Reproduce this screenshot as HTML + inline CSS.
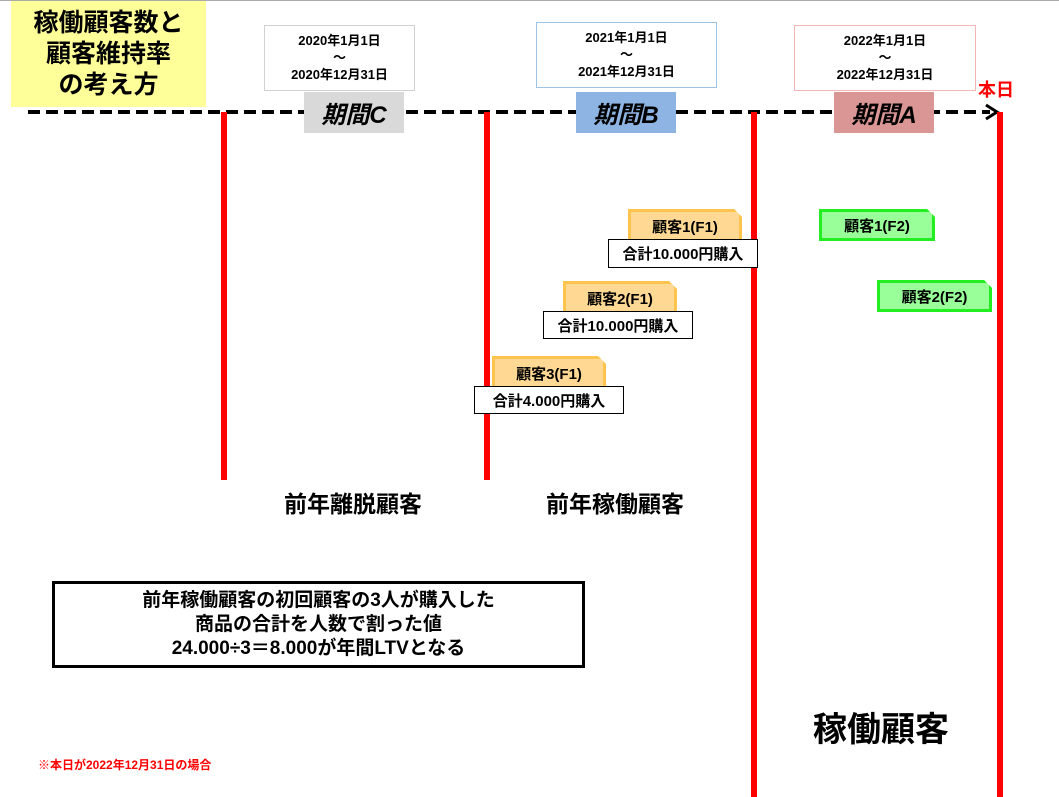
<!DOCTYPE html>
<html><head><meta charset="utf-8"><style>
body{margin:0;width:1059px;height:797px;position:relative;background:#fff;overflow:hidden;font-family:"Liberation Sans","Noto Sans CJK JP",sans-serif;font-weight:bold;color:#000}
.a{position:absolute;box-sizing:border-box}
.c{display:flex;align-items:center;justify-content:center;text-align:center;white-space:nowrap}
.red{background:#f00;width:6px}
.date{border:1px solid #d0d0d0;background:#fff;font-size:13px;line-height:22px;flex-direction:column}
.per{font-size:24px;font-style:italic}
.tag{background:#ffd993;border:3px solid #ffc44d;border-bottom:none;font-size:15px;clip-path:polygon(0 0,calc(100% - 8px) 0,100% 8px,100% 100%,0 100%)}
.box{border:1px solid #000;background:#fff;font-size:15px}
.g{background:#99ff99;border:3px solid #22ee22;font-size:15px;clip-path:polygon(0 0,calc(100% - 8px) 0,100% 8px,100% 100%,0 100%)}
</style></head><body>
<div class="a" style="left:0;top:0;width:1059px;height:1px;background:#aaa"></div>
<div class="a c" style="left:11px;top:1px;width:195px;height:106px;background:#ffff99;font-size:25px;line-height:31px">稼働顧客数と<br>顧客維持率<br>の考え方</div>
<svg class="a" style="left:0;top:0" width="1059" height="797">
<line x1="28" y1="112" x2="990" y2="112" stroke="#000" stroke-width="4" stroke-dasharray="12,6"/>
<polyline points="986,105 997,112 986,119" fill="none" stroke="#000" stroke-width="3"/>
</svg>
<div class="a red" style="left:221px;top:112px;height:368px"></div>
<div class="a red" style="left:484px;top:112px;height:368px"></div>
<div class="a red" style="left:751px;top:112px;height:685px"></div>
<div class="a red" style="left:997px;top:112px;height:685px"></div>
<div class="a c date" style="left:264px;top:25px;width:151px;height:66px"><div>2020年1月1日</div><div style="line-height:12px">～</div><div>2020年12月31日</div></div>
<div class="a c date" style="left:536px;top:22px;width:181px;height:66px;border-color:#9dc3e6"><div>2021年1月1日</div><div style="line-height:12px">～</div><div>2021年12月31日</div></div>
<div class="a c date" style="left:794px;top:25px;width:182px;height:66px;border-color:#f4b6b6"><div>2022年1月1日</div><div style="line-height:12px">～</div><div>2022年12月31日</div></div>
<div class="a c per" style="left:304px;top:92px;width:100px;height:41px;background:#d9d9d9">期間C</div>
<div class="a c per" style="left:576px;top:92px;width:100px;height:41px;background:#8eb4e3">期間B</div>
<div class="a c per" style="left:834px;top:92px;width:100px;height:41px;background:#d99694">期間A</div>
<div class="a" style="left:978px;top:76px;color:#f00;font-size:18px">本日</div>
<div class="a c tag" style="left:628px;top:209px;width:114px;height:31px">顧客1(F1)</div>
<div class="a c box" style="left:608px;top:239px;width:150px;height:29px">合計10.000円購入</div>
<div class="a c tag" style="left:563px;top:281px;width:114px;height:31px">顧客2(F1)</div>
<div class="a c box" style="left:543px;top:311px;width:150px;height:28px">合計10.000円購入</div>
<div class="a c tag" style="left:492px;top:356px;width:114px;height:31px">顧客3(F1)</div>
<div class="a c box" style="left:474px;top:386px;width:150px;height:28px">合計4.000円購入</div>
<div class="a c g" style="left:819px;top:209px;width:116px;height:32px">顧客1(F2)</div>
<div class="a c g" style="left:877px;top:280px;width:115px;height:32px">顧客2(F2)</div>
<div class="a" style="left:284px;top:485px;font-size:23px">前年離脱顧客</div>
<div class="a" style="left:546px;top:485px;font-size:23px">前年稼働顧客</div>
<div class="a c" style="left:52px;top:581px;width:533px;height:87px;border:3px solid #000;font-size:19px;line-height:24px">前年稼働顧客の初回顧客の3人が購入した<br>商品の合計を人数で割った値<br>24.000÷3＝8.000が年間LTVとなる</div>
<div class="a" style="left:813px;top:702px;font-size:34px">稼働顧客</div>
<div class="a" style="left:38px;top:756px;font-size:12px;color:#f00">※本日が2022年12月31日の場合</div>
</body></html>
